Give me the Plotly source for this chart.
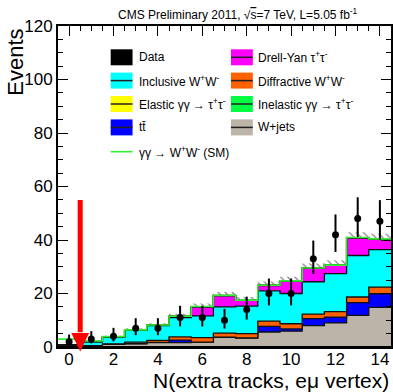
import numpy as np
import plotly.graph_objects as go

# ---------------- data ----------------
bins = list(range(15))  # N extra tracks
data_counts = [2, 3, 4, 7, 7, 11, 11, 10, 14, 20, 20, 33, 42, 48, 47]
data_err_up = [2.64, 2.92, 3.16, 3.77, 3.77, 4.40, 4.40, 4.27, 4.83, 5.59, 5.59, 6.80, 7.55, 7.98, 7.91]
data_err_dn = [1.29, 1.63, 1.91, 2.58, 2.58, 3.28, 3.28, 3.11, 3.72, 4.43, 4.43, 5.72, 6.46, 6.90, 6.83]

wjets     = [0.20, 0.30, 1.00, 1.20, 1.60, 1.60, 1.70, 3.60, 3.30, 5.60, 5.90, 8.00, 9.00, 11.8, 14.8]
ttbar     = [0.05, 0.05, 0.05, 0.10, 0.15, 1.00, 0.10, 0.10, 0.10, 2.10, 0.90, 2.60, 2.20, 4.80, 5.10]
diff_ww   = [0.20, 0.15, 0.15, 0.50, 0.75, 1.20, 1.70, 1.50, 1.60, 2.00, 1.90, 1.70, 2.00, 2.10, 2.50]
incl_ww   = [0.30, 1.40, 2.40, 4.40, 5.50, 7.20, 8.10, 9.80, 10.3, 11.3, 11.3, 12.1, 14.2, 15.5, 14.0]
dy_tautau = [0.05, 0.10, 0.10, 0.10, 0.10, 0.40, 3.40, 4.20, 2.10, 2.00, 4.60, 5.00, 3.10, 6.60, 3.90]
el_tautau = [0.02, 0.02, 0.02, 0.02, 0.02, 0.02, 0.02, 0.01, 0.01, 0.01, 0.01, 0.01, 0.01, 0.01, 0.01]
inel_tautau = [0.02, 0.05, 0.05, 0.05, 0.05, 0.05, 0.05, 0.05, 0.05, 0.05, 0.05, 0.05, 0.05, 0.05, 0.05]
signal_ww = [2.10, 0.20, 0.10, 0.05, 0.05, 0.05, 0.05, 0.05, 0.05, 0.05, 0.05, 0.05, 0.05, 0.05, 0.05]
bkg_unc   = [0.20, 0.30, 0.40, 0.60, 0.70, 1.00, 1.20, 1.30, 1.20, 1.40, 1.60, 1.80, 1.90, 2.00, 2.00]

x_ticks = [0, 2, 4, 6, 8, 10, 12, 14]
y_ticks = [0, 20, 40, 60, 80, 100, 120]
cut_value = 0.5
arrow_top = 55

title_text = "CMS Preliminary 2011, √<span style='text-decoration:overline'>s</span>=7 TeV, L=5.05 fb<sup>-1</sup>"
x_title = "N(extra tracks, eμ vertex)"
y_title = "Events"

stack = [
    ("W+jets", wjets, "#bcb3a9"),
    ("tt\u0304", ttbar, "#0000ff"),
    ("Diffractive W<sup>+</sup>W<sup>-</sup>", diff_ww, "#ff6000"),
    ("Inclusive W<sup>+</sup>W<sup>-</sup>", incl_ww, "#00ffff"),
    ("Drell-Yan τ<sup>+</sup>τ<sup>-</sup>", dy_tautau, "#ff00ff"),
    ("Elastic γγ → τ<sup>+</sup>τ<sup>-</sup>", el_tautau, "#ffff00"),
    ("Inelastic γγ → τ<sup>+</sup>τ<sup>-</sup>", inel_tautau, "#00ff40"),
]
signal_label = "γγ → W<sup>+</sup>W<sup>-</sup> (SM)"
signal_color = "#33ee33"

legend_rows = [
    [("Data", "#000000", False), ("Drell-Yan τ<sup>+</sup>τ<sup>-</sup>", "#ff00ff", True)],
    [("Inclusive W<sup>+</sup>W<sup>-</sup>", "#00ffff", True), ("Diffractive W<sup>+</sup>W<sup>-</sup>", "#ff6000", True)],
    [("Elastic γγ → τ<sup>+</sup>τ<sup>-</sup>", "#ffff00", True), ("Inelastic γγ → τ<sup>+</sup>τ<sup>-</sup>", "#00ff40", True)],
    [("tt\u0304", "#0000ff", True), ("W+jets", "#bcb3a9", True)],
]

# ---------------- layout geometry (pixels) ----------------
W_FIG, H_FIG = 393, 392
L, R, T, B = 58, 393, 26, 347
PW, PH = R - L, B - T


def pxx(x):
    return (x - L) / PW


def pxy(y):
    return (B - y) / PH


FONT = "Liberation Sans, Arial, Helvetica, sans-serif"

edges = np.arange(-0.5, 15.0, 1.0)


def step(vals):
    v = np.asarray(vals, dtype=float)
    return np.append(v, v[-1])


fig = go.Figure()

cum = np.zeros(len(bins))
for i, (name, vals, col) in enumerate(stack):
    cum = cum + np.asarray(vals)
    fig.add_trace(go.Scatter(
        x=edges, y=step(cum), mode="lines", line=dict(shape="hv", color="#111111", width=1.3),
        fill="tozeroy" if i == 0 else "tonexty", fillcolor=col, name=name, showlegend=False,
        hoverinfo="skip"))

total = cum.copy()
fig.add_trace(go.Scatter(
    x=edges, y=step(total + np.asarray(bkg_unc)), mode="lines", line=dict(shape="hv", width=0),
    fill="tonexty", fillcolor="rgba(0,0,0,0)",
    fillpattern=dict(shape="\\", fgcolor="#000000", bgcolor="rgba(0,0,0,0)", size=5, solidity=0.25),
    showlegend=False, hoverinfo="skip"))

fig.add_trace(go.Scatter(
    x=edges, y=step(total + np.asarray(signal_ww)), mode="lines",
    line=dict(shape="hv", color=signal_color, width=1.6), showlegend=False, hoverinfo="skip"))

fig.add_trace(go.Scatter(
    x=bins, y=data_counts, mode="markers", marker=dict(color="black", size=7),
    error_y=dict(type="data", array=data_err_up, arrayminus=data_err_dn, color="black",
                 thickness=2, width=0),
    showlegend=False, hoverinfo="skip"))

shapes = []
annotations = []

# bottom frame line above the fills
shapes.append(dict(type="line", xref="paper", yref="paper", x0=0, x1=1, y0=0, y1=0,
                   line=dict(color="black", width=2), layer="above"))

# red arrow at the cut
ymax = 120.0
shapes.append(dict(type="line", xref="x", yref="paper", x0=cut_value, x1=cut_value,
                   y0=arrow_top / ymax, y1=5.5 / ymax, line=dict(color="#ff0000", width=5)))
hw = 0.4
shapes.append(dict(type="path", xref="x", yref="paper",
                   path=f"M {cut_value - hw} {5.2 / ymax} L {cut_value + hw} {5.2 / ymax} L {cut_value} {-1.7 / ymax} Z",
                   fillcolor="#ff0000", line=dict(width=0)))

# legend (manual, two columns)
col_box_x = [111, 232]
col_text_x = [137, 257]
row_y = [57.3, 80.6, 104.0, 127.4, 151.7]
box_w, box_h = 22, 16
for r, row in enumerate(legend_rows):
    for c, (lab, col, has_line) in enumerate(row):
        x0 = col_box_x[c]
        yc = row_y[r]
        shapes.append(dict(type="rect", xref="paper", yref="paper",
                           x0=pxx(x0), x1=pxx(x0 + box_w), y0=pxy(yc + box_h / 2), y1=pxy(yc - box_h / 2),
                           fillcolor=col, line=dict(width=0)))
        if has_line:
            shapes.append(dict(type="line", xref="paper", yref="paper",
                               x0=pxx(x0), x1=pxx(x0 + box_w), y0=pxy(yc), y1=pxy(yc),
                               line=dict(color="#222222", width=1.5)))
        annotations.append(dict(text=lab, xref="paper", yref="paper", x=pxx(col_text_x[c]), y=pxy(yc),
                                xanchor="left", yanchor="middle", showarrow=False,
                                font=dict(family=FONT, size=12, color="black")))
# signal legend line
shapes.append(dict(type="line", xref="paper", yref="paper",
                   x0=pxx(col_box_x[0]), x1=pxx(col_box_x[0] + box_w), y0=pxy(row_y[4]), y1=pxy(row_y[4]),
                   line=dict(color=signal_color, width=1.6)))
annotations.append(dict(text=signal_label, xref="paper", yref="paper", x=pxx(col_text_x[0]), y=pxy(row_y[4]),
                        xanchor="left", yanchor="middle", showarrow=False,
                        font=dict(family=FONT, size=12, color="black")))

# title
annotations.append(dict(text=title_text, xref="paper", yref="paper", x=pxx(362), y=pxy(14),
                        xanchor="right", yanchor="middle", showarrow=False,
                        font=dict(family=FONT, size=12, color="black")))
# axis titles
annotations.append(dict(text=y_title, xref="paper", yref="paper", x=pxx(15), y=pxy(27),
                        xanchor="center", yanchor="top", textangle=-90, showarrow=False,
                        font=dict(family=FONT, size=22, color="black")))
annotations.append(dict(text=x_title, xref="paper", yref="paper", x=pxx(393), y=pxy(380.5),
                        xanchor="right", yanchor="middle", showarrow=False,
                        font=dict(family=FONT, size=21, color="black")))

fig.update_layout(
    width=W_FIG, height=H_FIG,
    margin=dict(l=L, r=W_FIG - R, t=T, b=H_FIG - B, pad=0),
    paper_bgcolor="white", plot_bgcolor="white",
    showlegend=False,
    shapes=shapes, annotations=annotations,
    xaxis=dict(range=[-0.5, 14.5], tickvals=x_ticks, ticks="inside", ticklen=10, tickwidth=1,
               tickcolor="black", showline=True, linecolor="black", linewidth=2, mirror="ticks",
               showgrid=False, zeroline=False, layer="below traces", ticklabelstandoff=-4,
               minor=dict(dtick=0.5, ticklen=5, tickwidth=1, ticks="inside", tickcolor="black", showgrid=False),
               tickfont=dict(family=FONT, size=17, color="black")),
    yaxis=dict(range=[0, 120], tickvals=y_ticks, ticks="inside", ticklen=10, tickwidth=1,
               tickcolor="black", showline=True, linecolor="black", linewidth=2, mirror="ticks",
               showgrid=False, zeroline=False,
               minor=dict(dtick=5, ticklen=5, tickwidth=1, ticks="inside", tickcolor="black", showgrid=False),
               tickfont=dict(family=FONT, size=17, color="black")),
)

fig.write_html("out.html")
